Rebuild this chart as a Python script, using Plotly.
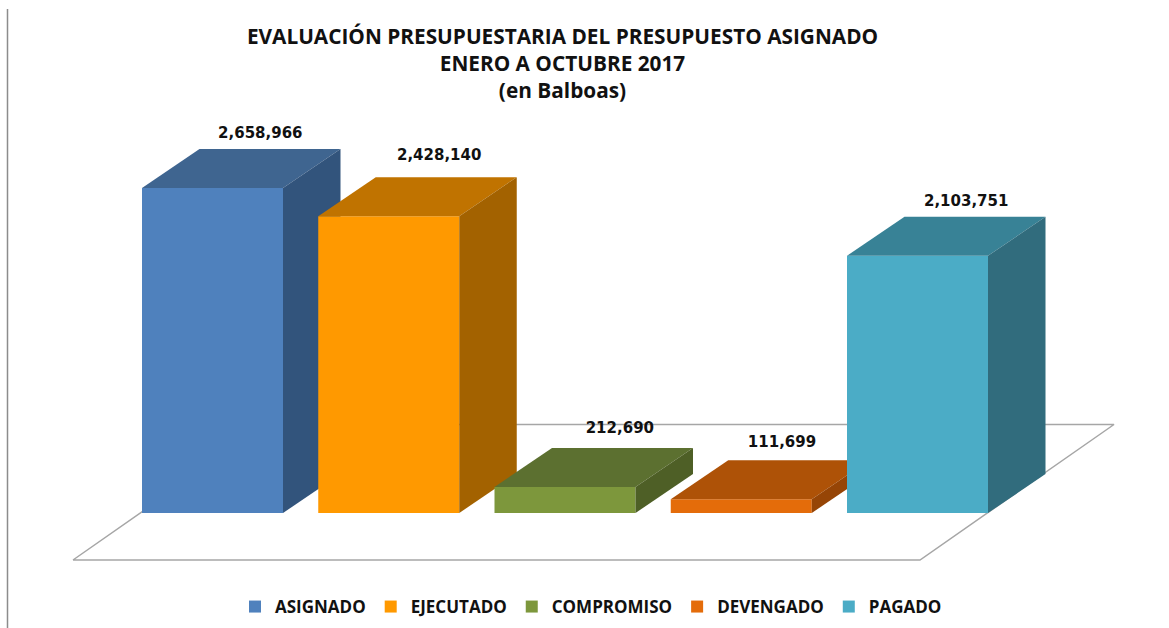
import plotly.graph_objects as go

# --- data ---
categories = ["ASIGNADO", "EJECUTADO", "COMPROMISO", "DEVENGADO", "PAGADO"]
values = [2658966, 2428140, 212690, 111699, 2103751]
labels = ["2,658,966", "2,428,140", "212,690", "111,699", "2,103,751"]
front_colors = ["#4F81BD", "#FF9900", "#7D973C", "#E46C0A", "#4BACC6"]
top_colors = ["#3F6590", "#C07300", "#5C7030", "#AE5207", "#388296"]
side_colors = ["#32547C", "#A36200", "#4E5F26", "#964506", "#316C7D"]
title_lines = ["EVALUACIÓN PRESUPUESTARIA DEL PRESUPUESTO ASIGNADO",
               "ENERO A OCTUBRE 2017", "(en Balboas)"]

# --- scales / geometry (pixels per unit of the plot) ---
W, H = 1169, 628
PX_X = 176.25          # px per category
PX_Y = 1 / 8180        # px per Balboa
X0_PX, Y0_PX = 212.5, 513
BAR_W = 141 / PX_X
DX = 57.5 / PX_X       # oblique depth
DY = 39 / PX_Y
xrange_ = [-X0_PX / PX_X, (W - X0_PX) / PX_X]
yrange_ = [(Y0_PX - H) / PX_Y, Y0_PX / PX_Y]
FONT = "Open Sans"
LABEL_FONT = "DejaVu Sans"
GREY = "#A6A6A6"

fig = go.Figure()

# floor, drawn in the base axes
fl, fr = (73 - X0_PX) / PX_X, (920 - X0_PX) / PX_X
fb, ft = -47 / PX_Y, 88.5 / PX_Y
fdx = 194 / PX_X
fig.add_trace(go.Scatter(
    x=[fl, fr, fr + fdx, fl + fdx, fl], y=[fb, fb, ft, ft, fb],
    mode="lines", line=dict(color=GREY, width=1.5),
    hoverinfo="skip", showlegend=False))

label_dx = [-0.055, -0.04, -0.015, -0.095, -0.05]
label_dy = [15, 21, 19, 17, 15]

axes = {}
for i, (cat, v) in enumerate(zip(categories, values)):
    n = i + 2
    xa, ya = f"x{n}", f"y{n}"
    axes[f"xaxis{n}"] = dict(range=xrange_, visible=False, overlaying="x", fixedrange=True)
    axes[f"yaxis{n}"] = dict(range=yrange_, visible=False, overlaying="y", fixedrange=True)
    l, r = i - BAR_W / 2, i + BAR_W / 2
    fig.add_trace(go.Bar(x=[i], y=[v], width=BAR_W, name=cat, xaxis=xa, yaxis=ya,
                         marker=dict(color=front_colors[i], line=dict(width=0))))
    fig.add_trace(go.Scatter(x=[l, r, r + DX, l + DX, l], y=[v, v, v + DY, v + DY, v],
                             fill="toself", fillcolor=top_colors[i], mode="lines",
                             line=dict(width=0), xaxis=xa, yaxis=ya,
                             hoverinfo="skip", showlegend=False))
    fig.add_trace(go.Scatter(x=[r, r + DX, r + DX, r, r], y=[0, DY, v + DY, v, 0],
                             fill="toself", fillcolor=side_colors[i], mode="lines",
                             line=dict(width=0), xaxis=xa, yaxis=ya,
                             hoverinfo="skip", showlegend=False))

# data labels on the top-most axes
n_last = len(categories) + 1
fig.add_trace(go.Scatter(
    x=[i + DX + label_dx[i] for i in range(len(values))],
    y=[v + DY + label_dy[i] / PX_Y for i, v in enumerate(values)],
    text=labels, mode="text", textposition="middle center",
    textfont=dict(family=LABEL_FONT, size=15, color="#111111", weight=700),
    xaxis=f"x{n_last}", yaxis=f"y{n_last}", hoverinfo="skip", showlegend=False))

fig.update_layout(
    width=W, height=H, autosize=False,
    margin=dict(l=0, r=0, t=0, b=0),
    paper_bgcolor="white", plot_bgcolor="rgba(0,0,0,0)",
    barmode="overlay",
    title=dict(text="<br>".join(title_lines), x=562.5 / W, xanchor="center",
               y=1 - 44 / H, yanchor="top",
               font=dict(family=FONT, size=20.8, color="#111111", weight=700)),
    xaxis=dict(range=xrange_, visible=False, fixedrange=True),
    yaxis=dict(range=yrange_, visible=False, fixedrange=True),
    legend=dict(orientation="h", x=591 / W, xanchor="center", y=1 - 607 / H, yanchor="middle",
                font=dict(family=FONT, size=17, color="#111111", weight=700),
                bgcolor="rgba(0,0,0,0)", itemclick=False, itemdoubleclick=False),
    shapes=[dict(type="line", xref="paper", yref="paper", x0=7.5 / W, x1=7.5 / W,
                 y0=0, y1=1 - 9 / H, line=dict(color="#8C8C8C", width=1.5))],
    **axes,
)

fig.write_html("out.html", config={"displayModeBar": False},
               post_script="document.body.style.margin='0';")
